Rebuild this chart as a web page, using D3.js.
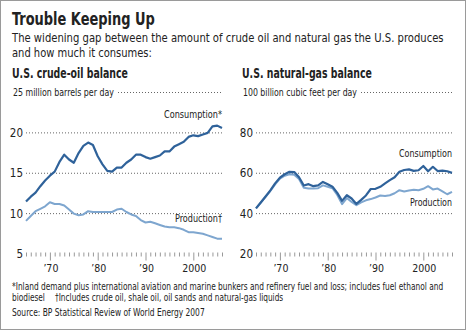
<!DOCTYPE html>
<html>
<head>
<meta charset="utf-8">
<script src="https://cdn.jsdelivr.net/npm/d3@7"></script>
<style>
  html, body { margin: 0; padding: 0; background: #fff; }
  svg { display: block; }
  text { font-family: "DejaVu Sans Condensed", "Liberation Sans Narrow", "Roboto Condensed", "Open Sans", sans-serif; fill: #222; }
</style>
</head>
<body>
<svg id="chart" width="466" height="330"></svg>
<script>
// ---------- DATA ----------
const years = d3.range(1965, 2007);
const oilConsumption = [11.5, 12.1, 12.6, 13.4, 14.1, 14.7, 15.2, 16.4, 17.3, 16.7,
  16.3, 17.5, 18.4, 18.8, 18.5, 17.1, 16.1, 15.3, 15.2, 15.7,
  15.7, 16.3, 16.7, 17.3, 17.3, 17.0, 16.8, 17.0, 17.2, 17.7,
  17.7, 18.3, 18.6, 18.9, 19.5, 19.7, 19.6, 19.8, 20.0, 20.8,
  20.9, 20.6];
const oilProduction = [9.1, 9.7, 10.3, 10.6, 10.9, 11.4, 11.2, 11.2, 11.0, 10.5,
  10.0, 9.8, 9.9, 10.3, 10.2, 10.2, 10.2, 10.2, 10.2, 10.5,
  10.6, 10.2, 9.9, 9.7, 9.2, 8.9, 9.0, 8.8, 8.6, 8.4,
  8.3, 8.3, 8.2, 8.0, 7.7, 7.7, 7.6, 7.5, 7.3, 7.1,
  6.9, 6.9];
const gasConsumption = [42.6, 45.5, 48.5, 51.5, 55.0, 57.8, 59.5, 60.7, 60.6, 58.0,
  53.9, 54.6, 53.6, 54.0, 55.7, 54.5, 53.3, 50.3, 46.3, 49.1,
  47.5, 44.8, 46.8, 49.0, 52.2, 52.3, 53.3, 55.0, 56.6, 58.0,
  60.7, 61.6, 61.9, 61.2, 61.5, 63.6, 61.0, 63.2, 61.1, 61.3,
  61.0, 60.2];
const gasProduction = [42.6, 45.5, 48.3, 51.2, 54.5, 57.3, 58.8, 59.5, 59.3, 57.2,
  52.8, 52.4, 52.4, 52.6, 54.0, 53.3, 52.6, 49.2, 44.7, 47.7,
  45.8, 44.2, 45.6, 46.6, 47.2, 48.0, 49.0, 48.7, 49.1, 50.1,
  51.6, 51.0, 51.5, 51.8, 51.6, 52.3, 53.6, 52.0, 52.4, 51.0,
  49.6, 50.8];
const oilTickValues = [5, 10, 15, 20];
const gasTickValues = [20, 40, 60, 80];
const decadeTicks = [1970, 1980, 1990, 2000];
const decadeLabels = ["\u201970", "\u201980", "\u201990", "2000"];

// ---------- LAYOUT ----------
const svg = d3.select("#chart");
const W = 466, H = 330;
const C_CONS = "#2f629a", C_PROD = "#7ea6cf";
const TOP = 92.5, BOTTOM = 254;

svg.append("rect").attr("x", 0.5).attr("y", 0.5).attr("width", W - 1).attr("height", H - 1)
  .attr("fill", "#fff").attr("stroke", "#9a9a9a");

// text fitted to a target width with a horizontal scale (condensed face look)
function txt(x, y, s, size, weight, len) {
  const t = svg.append("text").attr("x", 0).attr("y", 0).text(s)
    .style("font-size", size + "px").style("font-weight", weight || "normal");
  let k = 1;
  if (len) {
    const nat = t.node().getComputedTextLength();
    if (nat > 0) k = len / nat;
  }
  t.attr("transform", `translate(${x},${y}) scale(${k},1)`);
  return t;
}

txt(12, 25, "Trouble Keeping Up", 17, "bold", 143);
txt(12, 42, "The widening gap between the amount of crude oil and natural gas the U.S. produces", 11.5, "normal", 432);
txt(12, 57, "and how much it consumes:", 11.5, "normal", 140);

function panel(opt) {
  const x = d3.scaleLinear().domain([1965, 2006]).range([opt.x0, opt.x1]);
  const y = d3.scaleLinear().domain(opt.yDomain).range([BOTTOM, TOP]);
  const g = svg.append("g");

  txt(opt.titleX, 78, opt.title, 13.5, "bold", opt.titleLen);

  // unit label at top value + dotted leader
  txt(opt.unitX, y(opt.yDomain[1]) + 3.5, opt.unit, 10, "normal", opt.unitLen);
  g.append("line").attr("x1", opt.unitX + opt.unitLen + 4).attr("x2", opt.x1 + 1)
    .attr("y1", y(opt.yDomain[1])).attr("y2", y(opt.yDomain[1]))
    .attr("stroke", "#666").attr("stroke-dasharray", "1,2");

  // grid lines
  g.selectAll(".grid").data(opt.ticks.slice(1)).join("line")
    .attr("x1", opt.x0).attr("x2", opt.x1 + 1)
    .attr("y1", d => y(d)).attr("y2", d => y(d))
    .attr("stroke", "#666").attr("stroke-dasharray", "1,2");

  // y tick labels
  g.selectAll(".ylab").data(opt.ticks).join("text")
    .attr("x", opt.x0 - 3).attr("y", d => y(d) + 4)
    .attr("text-anchor", "end").style("font-size", "11.5px")
    .text(d => d);

  // x axis ticks
  const xAxis = d3.axisBottom(x).tickValues(years).tickSize(4).tickFormat("");
  const ax = g.append("g").attr("transform", `translate(0,${BOTTOM - 1.5})`).call(xAxis);
  ax.select(".domain").remove();
  ax.selectAll(".tick line").attr("stroke", "#999")
    .attr("y2", d => decadeTicks.includes(d) ? 8 : 4);

  g.selectAll(".xlab").data(decadeTicks).join("text")
    .attr("x", d => x(d) + 1).attr("y", 272)
    .attr("text-anchor", "middle").style("font-size", "10.5px")
    .text((d, i) => decadeLabels[i]);

  const line = d3.line().x((d, i) => x(years[i])).y(d => y(d));
  g.append("path").datum(opt.prod).attr("d", line)
    .attr("fill", "none").attr("stroke", C_PROD).attr("stroke-width", 2).attr("stroke-linejoin", "round");
  g.append("path").datum(opt.cons).attr("d", line)
    .attr("fill", "none").attr("stroke", C_CONS).attr("stroke-width", 2.2).attr("stroke-linejoin", "round");

  txt(opt.x1 - opt.consLen, opt.consLabelY, opt.consLabel, 11, "normal", opt.consLen);
  txt(opt.x1 - opt.prodLen, opt.prodLabelY, opt.prodLabel, 11, "normal", opt.prodLen);
}

panel({
  x0: 26, x1: 222, yDomain: [5, 25], ticks: oilTickValues,
  title: "U.S. crude-oil balance", titleX: 12, titleLen: 116,
  unit: "25 million barrels per day", unitX: 13, unitLen: 101,
  cons: oilConsumption, prod: oilProduction,
  consLabel: "Consumption*", consLabelY: 118, consLen: 58,
  prodLabel: "Production\u2020", prodLabelY: 222, prodLen: 47
});

panel({
  x0: 256, x1: 452, yDomain: [20, 100], ticks: gasTickValues,
  title: "U.S. natural-gas balance", titleX: 242, titleLen: 130,
  unit: "100 billion cubic feet per day", unitX: 243, unitLen: 114,
  cons: gasConsumption, prod: gasProduction,
  consLabel: "Consumption", consLabelY: 157, consLen: 53,
  prodLabel: "Production", prodLabelY: 206, prodLen: 42
});

txt(12, 290, "*Inland demand plus international aviation and marine bunkers and refinery fuel and loss; includes fuel ethanol and", 10, "normal", 432);
txt(12, 301, "biodiesel", 10, "normal", 33);
txt(55, 301, "\u2020Includes crude oil, shale oil, oil sands and natural-gas liquids", 10, "normal", 229);
txt(12, 316, "Source: BP Statistical Review of World Energy 2007", 10, "normal", 193);
</script>
</body>
</html>
